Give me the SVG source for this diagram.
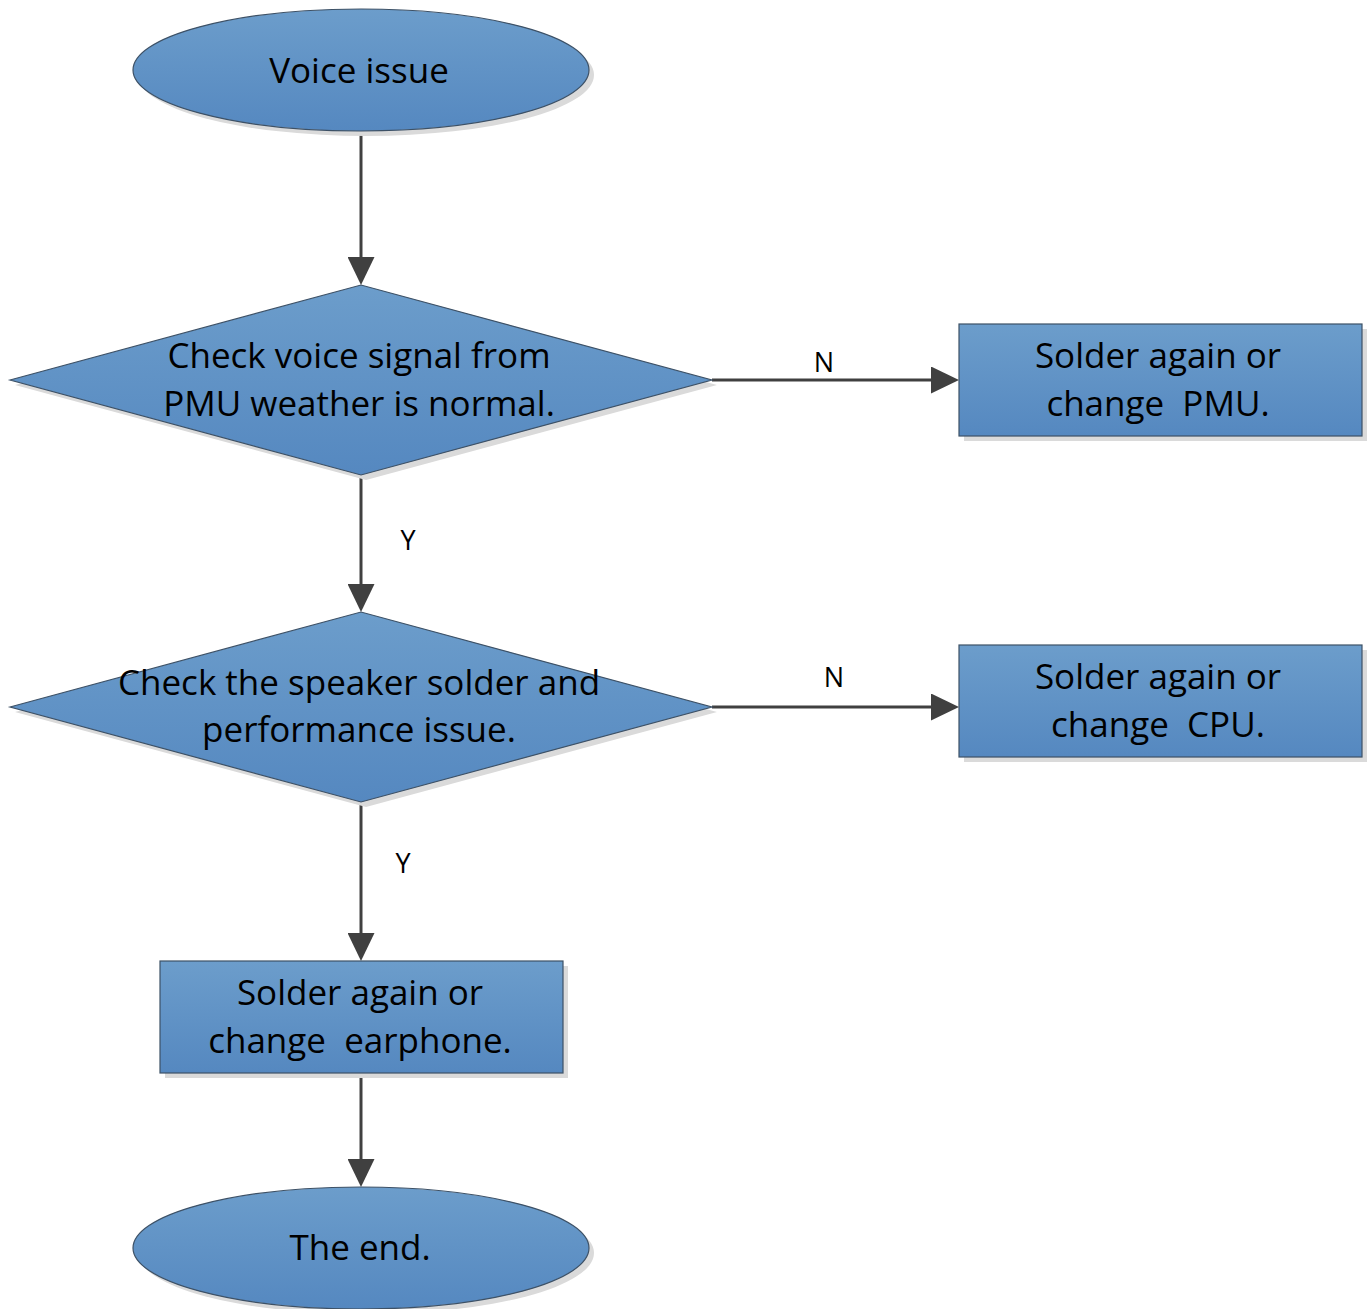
<svg xmlns="http://www.w3.org/2000/svg" width="1368" height="1309" viewBox="0 0 1368 1309">
  <style>
    .shape { fill: url(#blueFill); stroke: #3d5166; stroke-width: 1.2; }
    .shadow { fill: #dadada; }
    .label { font-family: "Open Sans", "Noto Sans", "DejaVu Sans", sans-serif; font-size: 35px; fill: #000; text-anchor: middle; }
    .edge-label { font-family: "Open Sans", "Noto Sans", "DejaVu Sans", sans-serif; font-size: 27px; fill: #000; text-anchor: middle; }
    .edge { stroke: #404040; stroke-width: 3; fill: none; marker-end: url(#arrow); }
  </style>
  <defs>
    <linearGradient id="blueFill" x1="0" y1="0" x2="0" y2="1">
      <stop offset="0" stop-color="#6c9dcb"/>
      <stop offset="1" stop-color="#5588c0"/>
    </linearGradient>
    <marker id="arrow" viewBox="0 0 28 27" refX="18" refY="13.5" markerWidth="28" markerHeight="27" markerUnits="userSpaceOnUse" orient="auto">
      <path d="M0,0 L28,13.5 L0,27 Z" fill="#404040"/>
    </marker>
  </defs>

  <rect width="1368" height="1309" fill="#ffffff"/>

  <!-- connectors -->
  <g id="connectors">
    <line class="edge" x1="361" y1="131" x2="361" y2="275"/>
    <line class="edge" x1="712" y1="380" x2="949" y2="380"/>
    <line class="edge" x1="361" y1="475" x2="361" y2="602"/>
    <line class="edge" x1="712" y1="707" x2="949" y2="707"/>
    <line class="edge" x1="361" y1="802" x2="361" y2="951"/>
    <line class="edge" x1="361" y1="1073" x2="361" y2="1177"/>
    <text class="edge-label" x="824" y="372">N</text>
    <text class="edge-label" x="834" y="687">N</text>
    <text class="edge-label" x="408" y="550">Y</text>
    <text class="edge-label" x="403" y="873">Y</text>
  </g>

  <!-- start -->
  <g id="start">
    <ellipse class="shadow" cx="366" cy="75" rx="228" ry="61"/>
    <ellipse class="shape" cx="361" cy="70" rx="228" ry="61"/>
    <text class="label" x="359" y="83">Voice issue</text>
  </g>

  <!-- decision: PMU signal -->
  <g id="check-pmu">
    <polygon class="shadow" points="15,385 366,290 717,385 366,480"/>
    <polygon class="shape" points="10,380 361,285 712,380 361,475"/>
    <text class="label" x="359" y="368">Check voice signal from</text>
    <text class="label" x="359" y="416">PMU weather is normal.</text>
  </g>

  <!-- action: PMU -->
  <g id="fix-pmu">
    <rect class="shadow" x="964" y="329" width="403" height="112"/>
    <rect class="shape" x="959" y="324" width="403" height="112"/>
    <text class="label" x="1158" y="368">Solder again or</text>
    <text class="label" x="1158" y="416" xml:space="preserve">change  PMU.</text>
  </g>

  <!-- decision: speaker -->
  <g id="check-speaker">
    <polygon class="shadow" points="15,712 366,617 717,712 366,807"/>
    <polygon class="shape" points="10,707 361,612 712,707 361,802"/>
    <text class="label" x="359" y="695">Check the speaker solder and</text>
    <text class="label" x="359" y="742">performance issue.</text>
  </g>

  <!-- action: CPU -->
  <g id="fix-cpu">
    <rect class="shadow" x="964" y="650" width="403" height="112"/>
    <rect class="shape" x="959" y="645" width="403" height="112"/>
    <text class="label" x="1158" y="689">Solder again or</text>
    <text class="label" x="1158" y="737" xml:space="preserve">change  CPU.</text>
  </g>

  <!-- action: earphone -->
  <g id="fix-earphone">
    <rect class="shadow" x="165" y="966" width="403" height="112"/>
    <rect class="shape" x="160" y="961" width="403" height="112"/>
    <text class="label" x="360" y="1005">Solder again or</text>
    <text class="label" x="360" y="1053" xml:space="preserve">change  earphone.</text>
  </g>

  <!-- end -->
  <g id="end">
    <ellipse class="shadow" cx="366" cy="1253" rx="228" ry="61"/>
    <ellipse class="shape" cx="361" cy="1248" rx="228" ry="61"/>
    <text class="label" x="360" y="1260">The end.</text>
  </g>
</svg>
